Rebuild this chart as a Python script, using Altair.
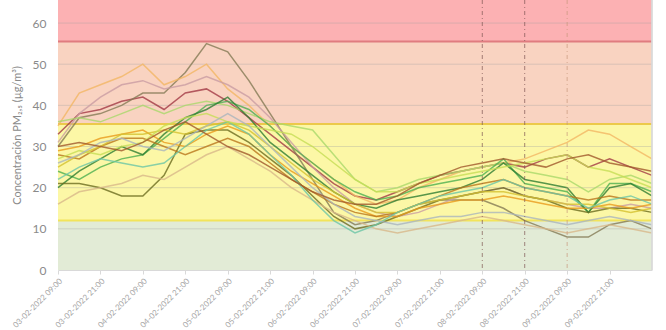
import altair as alt
import pandas as pd

hours = list(range(0, 169, 6))
tick_hours = list(range(0, 168, 12))
tick_labels = ["03-02-2022 09:00", "03-02-2022 21:00", "04-02-2022 09:00", "04-02-2022 21:00",
               "05-02-2022 09:00", "05-02-2022 21:00", "06-02-2022 09:00", "06-02-2022 21:00",
               "07-02-2022 09:00", "07-02-2022 21:00", "08-02-2022 09:00", "08-02-2022 21:00",
               "09-02-2022 09:00", "09-02-2022 21:00"]

names = ["S1", "S2", "S3", "S4", "S5", "S6", "S7", "S8", "S9", "S10", "S11", "S12", "S13", "S14", "S15", "S16"]
colors = ["#a33a45", "#857a55", "#f2b664", "#c99ca2", "#a9d86a", "#4caf50", "#2e7d32", "#6b6b1f",
          "#e89a1c", "#b9761c", "#d4c030", "#d8b88a", "#6cc5a6", "#c5dd55", "#aab5bd", "#a0582c"]

s1 = [33, 38, 39, 41, 42, 39, 43, 44, 41, 37, 33, 29, 25, 21, 18, 17, 19, 21, 23, 24, 25, 26, 25, 27, 28, 25, 27, 25, 23]
s2 = [30, 37, 38, 40, 43, 43, 48, 55, 53, 46, 38, 30, 22, 14, 11, 12, 14, 16, 17, 17, 17, 15, 12, 10, 8, 8, 11, 12, 10]
s3 = [35, 43, 45, 47, 50, 45, 47, 50, 44, 40, 35, 30, 26, 22, 18, 16, 17, 20, 22, 24, 25, 26, 27, 29, 31, 34, 33, 30, 27]
s4 = [31, 38, 42, 45, 46, 44, 45, 47, 45, 42, 37, 31, 25, 20, 16, 14, 13, 14, 16, 18, 19, 20, 18, 17, 16, 15, 15, 16, 15]
s5 = [36, 37, 36, 38, 40, 38, 40, 41, 40, 38, 36, 35, 34, 28, 22, 19, 20, 22, 23, 24, 25, 26, 24, 23, 22, 19, 22, 23, 21]
s6 = [24, 22, 25, 27, 28, 32, 36, 40, 41, 39, 35, 30, 26, 22, 19, 17, 18, 20, 21, 22, 23, 27, 21, 20, 19, 14, 21, 21, 19]
s7 = [20, 24, 27, 30, 28, 33, 37, 39, 42, 37, 31, 27, 23, 19, 16, 15, 17, 18, 19, 20, 22, 26, 22, 21, 20, 14, 20, 21, 18]
s8 = [21, 21, 20, 18, 18, 23, 33, 34, 34, 31, 27, 23, 18, 13, 10, 11, 13, 15, 17, 18, 19, 20, 18, 17, 15, 14, 15, 15, 14]
s9 = [29, 30, 32, 33, 34, 31, 30, 33, 35, 33, 28, 24, 21, 18, 15, 13, 13, 15, 16, 17, 17, 18, 17, 16, 15, 15, 16, 15, 16]
s10 = [28, 27, 30, 32, 32, 30, 28, 30, 32, 30, 26, 22, 19, 16, 14, 13, 14, 16, 18, 20, 21, 22, 20, 19, 18, 17, 18, 17, 17]
s11 = [25, 28, 30, 33, 33, 34, 33, 35, 36, 34, 30, 26, 22, 19, 16, 14, 14, 16, 17, 18, 19, 19, 18, 17, 16, 16, 15, 14, 15]
s12 = [16, 19, 20, 21, 23, 22, 25, 28, 30, 27, 24, 20, 17, 14, 12, 10, 9, 10, 11, 12, 13, 12, 11, 10, 9, 10, 11, 10, 9]
s13 = [22, 25, 27, 26, 25, 26, 30, 34, 36, 33, 28, 23, 17, 12, 9, 11, 14, 16, 18, 19, 20, 22, 20, 19, 18, 15, 17, 18, 16]
s14 = [27, 29, 28, 30, 31, 35, 37, 38, 36, 35, 34, 33, 30, 26, 22, 19, 19, 21, 22, 23, 24, 25, 26, 27, 28, 25, 24, 22, 20]
s15 = [26, 28, 31, 32, 30, 29, 32, 35, 38, 35, 30, 25, 20, 16, 13, 12, 11, 12, 13, 13, 14, 14, 13, 12, 11, 12, 13, 12, 11]
s16 = [30, 31, 30, 29, 31, 34, 36, 33, 30, 28, 25, 22, 19, 17, 16, 16, 18, 21, 23, 25, 26, 27, 26, 25, 27, 28, 26, 25, 24]
series = [s1, s2, s3, s4, s5, s6, s7, s8, s9, s10, s11, s12, s13, s14, s15, s16]

band_names = ["Buena", "Moderada", "Dañina grupos sensibles", "Dañina"]
band_low = [0, 12, 35.5, 55.5]
band_high = [12, 35.5, 55.5, 65.6]
band_colors = ["#e2ebd6", "#fcf7a6", "#f9d3c1", "#fcb1b3"]

limit_values = [12, 35.5, 55.5]
limit_colors = ["#f2e45a", "#ecc94a", "#e07c80"]
grid_values = [10, 20, 30, 40, 50, 60]
event_hours = [120, 132, 144]
event_names = ["A", "B", "C"]
event_colors = ["#7d5552", "#7d5552", "#c9977e"]

rows = []
for n, vals in zip(names, series):
    for h, v in zip(hours, vals):
        rows.append({"serie": n, "h": h, "v": v})
lines_df = pd.DataFrame(rows)
bands_df = pd.DataFrame({"band": band_names, "y0": band_low, "y1": band_high,
                         "x0": [0] * 4, "x1": [168] * 4})
limits_df = pd.DataFrame({"y": limit_values, "c": [str(v) for v in limit_values]})
grid_df = pd.DataFrame({"y": grid_values})
events_df = pd.DataFrame({"h": event_hours, "e": event_names})

label_js = "[" + ",".join("'" + s + "'" for s in tick_labels) + "]"
xscale = alt.Scale(domain=[0, 168], nice=False, zero=False)
yscale = alt.Scale(domain=[0, 65.6], nice=False)
font = "Lato"

xaxis = alt.Axis(values=tick_hours, labelExpr=label_js + "[round(datum.value/12)]",
                 labelAngle=-45, labelFontSize=8, labelColor="#a6a6a6", labelFont=font,
                 tickColor="#d9d9d9", tickSize=4, domainColor="#d9d9d9", grid=False, title=None,
                 labelOverlap=False, labelPadding=3)
yaxis = alt.Axis(values=[0, 10, 20, 30, 40, 50, 60], grid=False, ticks=False, domain=False,
                 labelFontSize=12, labelColor="#8a8a8a", labelFont=font, labelPadding=12,
                 title="Concentración PM₂,₅ (µg/m³)", titleFontSize=11, titleFontWeight="normal",
                 titleColor="#8a8a8a", titleFont=font, titlePadding=10)

bands = alt.Chart(bands_df).mark_rect().encode(
    x=alt.X("x0:Q", scale=xscale, axis=xaxis), x2="x1:Q",
    y=alt.Y("y0:Q", scale=yscale, axis=yaxis), y2="y1:Q",
    color=alt.Color("band:N", scale=alt.Scale(domain=band_names, range=band_colors), legend=None),
)
grid = alt.Chart(grid_df).mark_rule(color="#a0a0a0", opacity=0.35, strokeWidth=1).encode(
    y=alt.Y("y:Q", scale=yscale))
limits = alt.Chart(limits_df).mark_rule(strokeWidth=2).encode(
    y=alt.Y("y:Q", scale=yscale),
    color=alt.Color("c:N", scale=alt.Scale(domain=[str(v) for v in limit_values], range=limit_colors), legend=None))
lines = alt.Chart(lines_df).mark_line(strokeWidth=1.5, opacity=0.8).encode(
    x=alt.X("h:Q", scale=xscale), y=alt.Y("v:Q", scale=yscale),
    color=alt.Color("serie:N", scale=alt.Scale(domain=names, range=colors), legend=None),
    detail="serie:N")
events = alt.Chart(events_df).mark_rule(strokeWidth=1, strokeDash=[4, 3, 1, 3], opacity=0.7).encode(
    x=alt.X("h:Q", scale=xscale),
    color=alt.Color("e:N", scale=alt.Scale(domain=event_names, range=event_colors), legend=None))
edge = alt.Chart(events_df).mark_rule(color="#d9d9d9").encode(x=alt.value(594))

chart = alt.layer(bands, grid, limits, lines, events, edge).resolve_scale(color="independent").properties(
    width=594, height=270,
    autosize=alt.AutoSizeParams(type="none"),
    padding={"left": 58, "top": 0, "right": 14, "bottom": 60},
    background="white",
).configure_view(stroke=None)

chart.save("out.html", embed_options={"renderer": "svg", "actions": False})
